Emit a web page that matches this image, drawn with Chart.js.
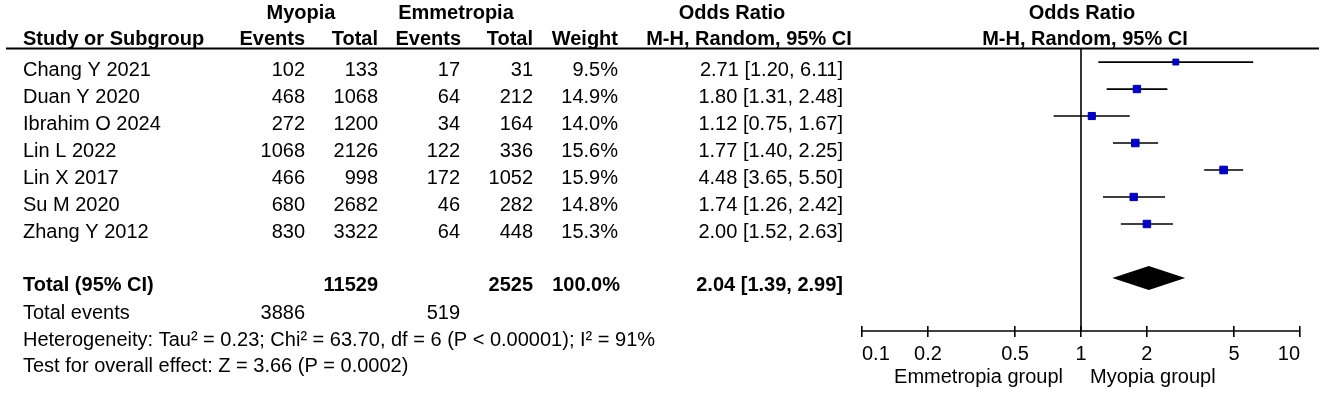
<!DOCTYPE html>
<html>
<head>
<meta charset="utf-8">
<script src="https://cdn.jsdelivr.net/npm/chart.js@4.4.1/dist/chart.umd.min.js"></script>
<style>
  html, body { margin: 0; padding: 0; background: #fff; }
  canvas { display: block; }
</style>
</head>
<body>
<canvas id="forest" width="1325" height="394"></canvas>
<script>
// study rows
var studies = ["Chang Y 2021", "Duan Y 2020", "Ibrahim O 2024", "Lin L 2022", "Lin X 2017", "Su M 2020", "Zhang Y 2012"];
var myoEvents = [102, 468, 272, 1068, 466, 680, 830];
var myoTotal = [133, 1068, 1200, 2126, 998, 2682, 3322];
var emmEvents = [17, 64, 34, 122, 172, 46, 64];
var emmTotal = [31, 212, 164, 336, 1052, 282, 448];
var weights = [9.5, 14.9, 14.0, 15.6, 15.9, 14.8, 15.3];
var oddsRatio = [2.71, 1.80, 1.12, 1.77, 4.48, 1.74, 2.00];
var ciLow = [1.20, 1.31, 0.75, 1.40, 3.65, 1.26, 1.52];
var ciHigh = [6.11, 2.48, 1.67, 2.25, 5.50, 2.42, 2.63];

// pooled result
var totalMyo = 11529;
var totalEmm = 2525;
var totalWeight = 100.0;
var totalOR = 2.04;
var totalLow = 1.39;
var totalHigh = 2.99;
var totalEventsMyo = 3886;
var totalEventsEmm = 519;

var heterogeneity = "Heterogeneity: Tau\u00b2 = 0.23; Chi\u00b2 = 63.70, df = 6 (P < 0.00001); I\u00b2 = 91%";
var overallEffect = "Test for overall effect: Z = 3.66 (P = 0.0002)";

var xTicks = [0.1, 0.2, 0.5, 1, 2, 5, 10];
var favoursLeft = "Emmetropia groupl";
var favoursRight = "Myopia groupl";

var FONT = "'Liberation Sans', Arial, sans-serif";
var totalRow = studies.length + 1;

function txt(ctx, s, x, y, align, bold) {
    ctx.font = (bold ? "bold " : "") + "20px " + FONT;
    ctx.textAlign = align || "left";
    ctx.textBaseline = "alphabetic";
    ctx.fillStyle = "#000";
    ctx.fillText(String(s), x, y);
}

function hline(ctx, x1, x2, y, w) {
    ctx.beginPath();
    ctx.lineWidth = w;
    ctx.strokeStyle = "#000";
    ctx.moveTo(x1, y);
    ctx.lineTo(x2, y);
    ctx.stroke();
}

// CI lines : one segment per study, broken by null points
var ciData = [];
var squareData = [];
var squareRadius = [];
for (var i = 0; i < studies.length; i++) {
    ciData.push({x: ciLow[i], y: i});
    ciData.push({x: ciHigh[i], y: i});
    ciData.push({x: oddsRatio[i], y: null});
    squareData.push({x: oddsRatio[i], y: i});
    squareRadius.push(1.35 * Math.sqrt(weights[i])); // box area ~ weight
}

var tablePlugin = {
    id: "forestTable",
    beforeDraw: function(chart) {
        var ctx = chart.ctx;
        ctx.save();
        ctx.fillStyle = "#fff";
        ctx.fillRect(0, 0, chart.width, chart.height);
        ctx.restore();
    },
    afterDatasetsDraw: function(chart) {
        var ctx = chart.ctx;
        var xs = chart.scales.x;
        var ys = chart.scales.y;
        var area = chart.chartArea;
        ctx.save();

        // header
        txt(ctx, "Myopia", 301, 19, "center", true);
        txt(ctx, "Emmetropia", 456, 19, "center", true);
        txt(ctx, "Odds Ratio", 732, 19, "center", true);
        txt(ctx, "Odds Ratio", 1082, 19, "center", true);
        txt(ctx, "Study or Subgroup", 23, 45, "left", true);
        txt(ctx, "Events", 305, 45, "right", true);
        txt(ctx, "Total", 378, 45, "right", true);
        txt(ctx, "Events", 461, 45, "right", true);
        txt(ctx, "Total", 533, 45, "right", true);
        txt(ctx, "Weight", 618, 45, "right", true);
        txt(ctx, "M-H, Random, 95% CI", 749, 45, "center", true);
        txt(ctx, "M-H, Random, 95% CI", 1085, 45, "center", true);
        hline(ctx, 6, 1319, 48.5, 2);

        // study rows
        for (var i = 0; i < studies.length; i++) {
            var y = ys.getPixelForValue(i) + 14;
            txt(ctx, studies[i], 23, y, "left");
            txt(ctx, myoEvents[i], 305, y, "right");
            txt(ctx, myoTotal[i], 378, y, "right");
            txt(ctx, emmEvents[i], 460, y, "right");
            txt(ctx, emmTotal[i], 533, y, "right");
            txt(ctx, weights[i].toFixed(1) + "%", 618, y, "right");
            txt(ctx, oddsRatio[i].toFixed(2) + " [" + ciLow[i].toFixed(2) + ", " + ciHigh[i].toFixed(2) + "]", 843, y, "right");
        }

        // total row
        var ty = ys.getPixelForValue(totalRow);
        txt(ctx, "Total (95% CI)", 23, ty + 13, "left", true);
        txt(ctx, totalMyo, 378, ty + 13, "right", true);
        txt(ctx, totalEmm, 533, ty + 13, "right", true);
        txt(ctx, totalWeight.toFixed(1) + "%", 620, ty + 13, "right", true);
        txt(ctx, totalOR.toFixed(2) + " [" + totalLow.toFixed(2) + ", " + totalHigh.toFixed(2) + "]", 843, ty + 13, "right", true);

        txt(ctx, "Total events", 23, 319, "left");
        txt(ctx, totalEventsMyo, 305, 319, "right");
        txt(ctx, totalEventsEmm, 460, 319, "right");
        txt(ctx, heterogeneity, 23, 346, "left");
        txt(ctx, overallEffect, 23, 372, "left");

        // line of no effect and axis line
        var x1 = xs.getPixelForValue(1);
        var axisY = area.bottom + 5;
        ctx.beginPath();
        ctx.lineWidth = 1.6;
        ctx.strokeStyle = "#000";
        ctx.moveTo(x1, 48.5);
        ctx.lineTo(x1, axisY);
        ctx.stroke();
        hline(ctx, xs.getPixelForValue(xTicks[0]), xs.getPixelForValue(xTicks[xTicks.length - 1]), axisY, 1.6);

        // pooled diamond
        ctx.beginPath();
        ctx.fillStyle = "#000";
        ctx.moveTo(xs.getPixelForValue(totalLow), ty);
        ctx.lineTo(xs.getPixelForValue(totalOR), ty - 12);
        ctx.lineTo(xs.getPixelForValue(totalHigh), ty);
        ctx.lineTo(xs.getPixelForValue(totalOR), ty + 12);
        ctx.closePath();
        ctx.fill();

        // favours labels
        txt(ctx, favoursLeft, x1 - 18, 383, "right");
        txt(ctx, favoursRight, x1 + 9, 383, "left");

        ctx.restore();
    }
};

Chart.defaults.font.family = FONT;
Chart.defaults.font.size = 20;
Chart.defaults.color = "#000";

var chart = new Chart(document.getElementById("forest").getContext("2d"), {
    type: "scatter",
    data: {
        datasets: [{
            data: ciData,
            showLine: true,
            spanGaps: false,
            borderColor: "#000",
            borderWidth: 1.7,
            pointRadius: 0,
            order: 2
        }, {
            data: squareData,
            pointStyle: "rect",
            pointRadius: squareRadius,
            backgroundColor: "#0000cc",
            borderColor: "#00009a",
            borderWidth: 1,
            order: 1
        }]
    },
    options: {
        responsive: false,
        animation: false,
        devicePixelRatio: 1,
        layout: {
            padding: {left: 862, right: 25, top: 48, bottom: 0}
        },
        plugins: {
            legend: {display: false},
            tooltip: {enabled: false}
        },
        scales: {
            x: {
                type: "logarithmic",
                min: 0.1,
                max: 10,
                border: {display: false},
                grid: {drawOnChartArea: false, drawTicks: true, tickLength: 11, color: "#000", lineWidth: 1.6},
                ticks: {
                    align: "inner",
                    padding: 5,
                    maxRotation: 0,
                    autoSkip: false,
                    callback: function(v) { return String(v); }
                },
                afterBuildTicks: function(scale) {
                    scale.ticks = xTicks.map(function(v) { return {value: v}; });
                },
                afterFit: function(scale) { scale.height = 68; }
            },
            y: {
                type: "linear",
                display: false,
                reverse: true,
                min: -0.52,
                max: 9.78
            }
        }
    },
    plugins: [tablePlugin]
});
</script>
</body>
</html>
